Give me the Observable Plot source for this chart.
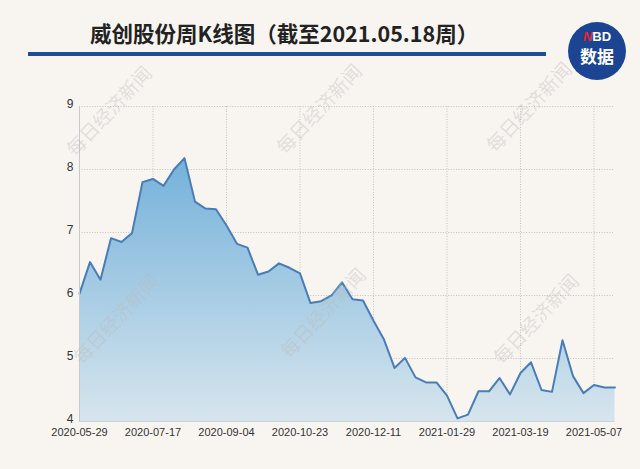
<!DOCTYPE html>
<html>
<head>
<meta charset="utf-8">
<script src="https://cdn.jsdelivr.net/npm/d3@7"></script>
<script src="https://cdn.jsdelivr.net/npm/@observablehq/plot@0.6"></script>
<style>
  html, body { margin: 0; padding: 0; background: #f8f5f1; }
  #wrap { position: relative; width: 640px; height: 469px; background: #f8f5f1; overflow: hidden; }
  #chart { position: absolute; left: 0; top: 0; }
  .title { position: absolute; left: 90px; top: 17px; font-family: "Noto Sans CJK SC", sans-serif; font-weight: 700; font-size: 21.5px; color: #222; white-space: nowrap; }
  .rule { position: absolute; left: 28px; top: 52px; width: 518px; height: 4px; background: #1d4d9b; }
  .logo { position: absolute; left: 568px; top: 22px; width: 58px; height: 58px; border-radius: 50%; background: #1b4592; color: #fff; font-family: "Noto Sans CJK SC", sans-serif; font-weight: 700; text-align: center; }
  .logo .nbd { position: absolute; left: 0; right: 0; top: 8px; font-size: 13px; line-height: 14px; font-family: "Liberation Sans", sans-serif; font-weight: 700; }
  .logo .nbd i { color: #e8262b; font-style: italic; }
  .logo .sj { position: absolute; left: 0; right: 0; top: 24px; font-size: 17px; line-height: 20px; }
  .wm { position: absolute; font-family: "Noto Sans CJK SC", serif; font-size: 19px; color: rgba(190,186,182,0.4); transform: translate(-50%, -50%) rotate(-47deg); white-space: nowrap; pointer-events: none; }
</style>
</head>
<body>
<div id="wrap">
  <div id="chart"></div>
  <div class="title">威创股份周K线图（截至2021.05.18周）</div>
  <div class="rule"></div>
  <div class="logo"><div class="nbd"><i>N</i>BD</div><div class="sj">数据</div></div>
</div>
<script>
const weeks = [
  "2020-05-29","2020-06-05","2020-06-12","2020-06-19","2020-06-26","2020-07-03","2020-07-10","2020-07-17",
  "2020-07-24","2020-07-31","2020-08-07","2020-08-14","2020-08-21","2020-08-28","2020-09-04","2020-09-11",
  "2020-09-18","2020-09-25","2020-10-02","2020-10-09","2020-10-16","2020-10-23","2020-10-30","2020-11-06",
  "2020-11-13","2020-11-20","2020-11-27","2020-12-04","2020-12-11","2020-12-18","2020-12-25","2021-01-01",
  "2021-01-08","2021-01-15","2021-01-22","2021-01-29","2021-02-05","2021-02-12","2021-02-19","2021-02-26",
  "2021-03-05","2021-03-12","2021-03-19","2021-03-26","2021-04-02","2021-04-09","2021-04-16","2021-04-23",
  "2021-04-30","2021-05-07","2021-05-14","2021-05-21"
];
const closes = [
  6.03, 6.53, 6.25, 6.91, 6.85, 6.99, 7.80, 7.85, 7.74, 8.00,
  8.18, 7.49, 7.38, 7.37, 7.11, 6.82, 6.76, 6.33, 6.38, 6.51,
  6.44, 6.35, 5.88, 5.91, 6.00, 6.21, 5.94, 5.92, 5.60, 5.30,
  4.85, 5.01, 4.70, 4.62, 4.62, 4.41, 4.05, 4.11, 4.48, 4.48,
  4.69, 4.43, 4.77, 4.94, 4.50, 4.47, 5.29, 4.72, 4.45, 4.58,
  4.54, 4.54
];
const xTickLabels = ["2020-05-29","2020-07-17","2020-09-04","2020-10-23","2020-12-11","2021-01-29","2021-03-19","2021-05-07"];
const yTicks = [4, 5, 6, 7, 8, 9];
const yGridTicks = [5, 6, 7, 8, 9];
const watermarkText = "每日经济新闻";

const parse = d3.utcParse("%Y-%m-%d");
const data = weeks.map((w, i) => ({date: parse(w), close: closes[i]}));
const xTicks = xTickLabels.map(parse);
const xDomain = [parse(weeks[0]), parse(weeks[weeks.length - 1])];

const plot = Plot.plot({
  width: 640,
  height: 469,
  marginTop: 106,
  marginBottom: 48,
  marginLeft: 79,
  marginRight: 25.5,
  style: {background: "transparent", fontFamily: "Liberation Sans, sans-serif", fontSize: "11px", color: "#333"},
  x: {type: "utc", domain: xDomain},
  y: {domain: [4, 9]},
  marks: [
    Plot.gridY(yGridTicks, {stroke: "#c4c0bb", strokeOpacity: 1, strokeDasharray: "1,1.6"}),
    Plot.gridX(xTicks.slice(1), {stroke: "#c4c0bb", strokeOpacity: 1, strokeDasharray: "1,1.6"}),
    Plot.areaY(data, {x: "date", y1: 4, y2: "close", fill: "url(#areaGrad)", fillOpacity: 1}),
    Plot.lineY(data, {x: "date", y: "close", stroke: "#4a7db6", strokeWidth: 2, strokeLinejoin: "round"}),
    Plot.ruleX([xDomain[0]], {stroke: "#c9c9c9", strokeWidth: 1}),
    Plot.ruleY([4], {stroke: "#c9d3d9", strokeWidth: 1}),
    Plot.axisY(yTicks, {tickSize: 0, tickPadding: 6, label: null, fill: "#333", tickFormat: d3.format("d"), fontSize: 12, dy: -2}),
    Plot.axisX(xTicks, {tickSize: 0, tickPadding: 7, label: null, tickFormat: d3.utcFormat("%Y-%m-%d"), fill: "#333"})
  ]
});

const svg = d3.select(plot);
const defs = svg.insert("defs", ":first-child");
const grad = defs.append("linearGradient")
  .attr("id", "areaGrad")
  .attr("gradientUnits", "userSpaceOnUse")
  .attr("x1", 0).attr("x2", 0).attr("y1", 150).attr("y2", 421);
grad.append("stop").attr("offset", "0").attr("stop-color", "#72b0da");
grad.append("stop").attr("offset", "1").attr("stop-color", "#d6e5ed");

document.getElementById("chart").appendChild(plot);

const wrap = document.getElementById("wrap");
const wmPositions = [[108, 110], [318, 108], [528, 106], [115, 318], [322, 312], [535, 318]];
for (const [x, y] of wmPositions) {
  const d = document.createElement("div");
  d.className = "wm";
  d.style.left = x + "px";
  d.style.top = y + "px";
  d.textContent = watermarkText;
  wrap.appendChild(d);
}
</script>
</body>
</html>
